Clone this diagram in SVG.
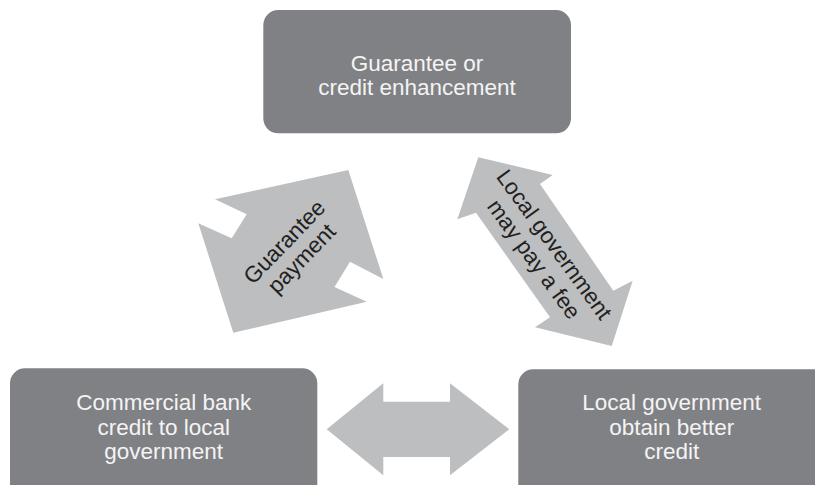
<svg xmlns="http://www.w3.org/2000/svg" width="815" height="485" viewBox="0 0 815 485">
<style>
.box{fill:#808184;}
.btxt{font-family:"Liberation Sans",Arial,sans-serif;font-size:22.5px;fill:#f4f4f4;text-anchor:middle;}
.arr{fill:#bcbec0;}
.atxt{font-family:"Liberation Sans",Arial,sans-serif;font-size:22.5px;fill:#231f20;text-anchor:middle;}
</style>
<rect width="815" height="485" fill="#ffffff"/>
<g id="connectors">
<g id="arrow-guarantee-payment">
<polygon class="arr" points="348.3,170 383.3,279 350,261.7 334.5,287 366.7,301.7 233.3,332.7 198.3,223.3 231.7,238.3 246.7,214.3 215,199.3"/>
<g transform="translate(292.7,250) rotate(-46)">
<text class="atxt" x="0" y="-4">Guarantee</text>
<text class="atxt" x="0" y="20">payment</text>
</g>
</g>
<g id="arrow-fee">
<polygon class="arr" points="478.3,157.3 552.7,175 540,184 613.3,290.7 632.7,280.7 611.7,346 535,327.3 550,317.3 476,212.7 457.3,219.3"/>
<g transform="translate(544,252) rotate(54)">
<text class="atxt" x="0" y="-5">Local government</text>
<text class="atxt" x="0" y="20">may pay a fee</text>
</g>
</g>
<g id="arrow-bottom">
<polygon class="arr" points="326.7,429.3 383.3,383.3 383.3,401.7 450,401.7 450,383.3 509.3,429.3 450,475.3 450,457 383.3,457 383.3,475.3"/>
</g>
</g>
<g id="node-guarantee">
<rect class="box" x="263.3" y="10" width="307.7" height="123.3" rx="15"/>
<text class="btxt" x="417" y="71">Guarantee or</text>
<text class="btxt" x="417" y="95">credit enhancement</text>
</g>
<g id="node-commercial-bank">
<rect class="box" x="10" y="368.3" width="307.3" height="140" rx="15"/>
<text class="btxt" x="163.7" y="410">Commercial bank</text>
<text class="btxt" x="163.7" y="434.5">credit to local</text>
<text class="btxt" x="163.7" y="459">government</text>
</g>
<g id="node-local-government">
<rect class="box" x="518.3" y="369.3" width="320" height="140" rx="15"/>
<text class="btxt" x="671.7" y="410">Local government</text>
<text class="btxt" x="671.7" y="434.5">obtain better</text>
<text class="btxt" x="671.7" y="459">credit</text>
</g>
</svg>
